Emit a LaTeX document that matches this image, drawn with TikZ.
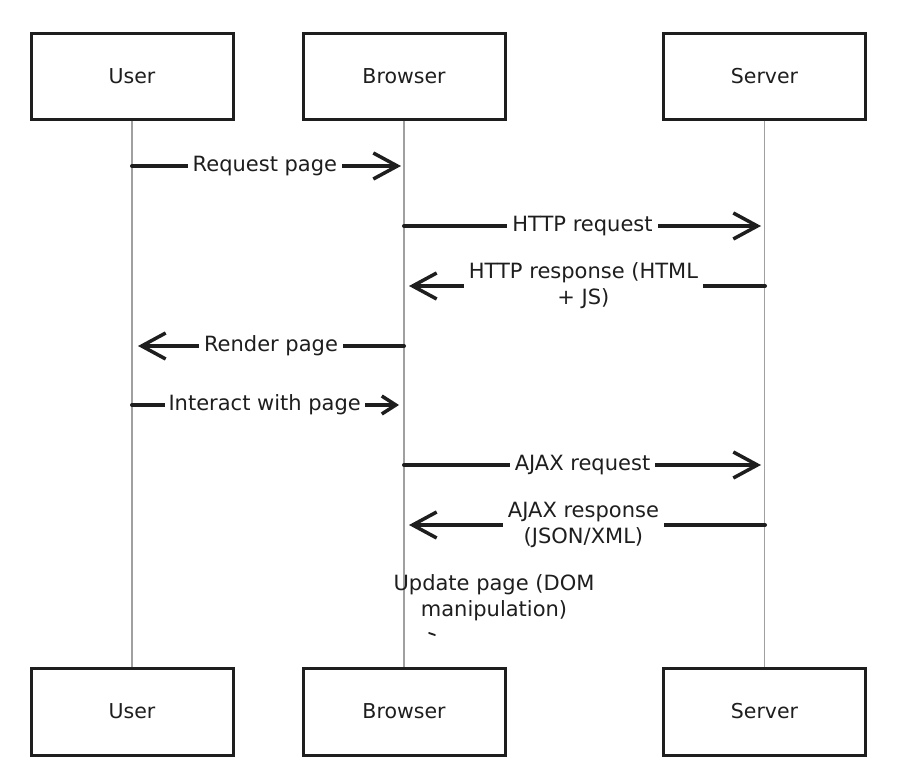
\documentclass[tikz,border=0pt]{standalone}
\usepackage{fontspec}
\setmainfont{DejaVu Sans}
\usetikzlibrary{arrows.meta}
\definecolor{ink}{HTML}{1E1E1E}
\definecolor{lifegray}{HTML}{A0A0A0}
\begin{document}
\begin{tikzpicture}[x=1pt,y=-1pt,
  actor/.style={draw=ink,line width=3pt,fill=white,minimum width=202pt,minimum height=86pt,
    inner sep=0pt,font=\fontsize{20.5}{26}\selectfont,text=ink},
  lifeline/.style={draw=lifegray,line width=1.3pt},
  msg/.style={draw=ink,line width=4pt,line cap=round,
    -{Straight Barb[length=24pt,width=26pt,line width=3.5pt]}},
  smallmsg/.style={draw=ink,line width=4pt,line cap=round,
    -{Straight Barb[length=14pt,width=18pt,line width=3.5pt]}},
  lbl/.style={fill=white,inner xsep=5pt,inner ysep=2pt,text=ink,
    font=\fontsize{21}{26}\selectfont,align=center},
  note/.style={text=ink,font=\fontsize{21}{26}\selectfont,align=center,inner sep=0pt},
  tickmark/.style={draw=ink,line width=1.8pt,line cap=round}
]
\useasboundingbox (0,0) rectangle (908,783);
\fill[white] (0,0) rectangle (908,783);

% actors
\node[actor] (u1) at (132,76.5) {User};
\node[actor] (b1) at (404,76.5) {Browser};
\node[actor] (s1) at (764.5,76.5) {Server};
\node[actor,minimum height=87pt] (u2) at (132,711.5) {User};
\node[actor,minimum height=87pt] (b2) at (404,711.5) {Browser};
\node[actor,minimum height=87pt] (s2) at (764.5,711.5) {Server};

% lifelines
\draw[lifeline] (u1.south) -- (u2.north);
\draw[lifeline] (b1.south) -- (b2.north);
\draw[lifeline] (s1.south) -- (s2.north);

% message anchor points
\coordinate (uA) at (132,166);   \coordinate (bA) at (401,166);
\coordinate (bB) at (404,226);   \coordinate (sB) at (761,226);
\coordinate (sC) at (765,286);   \coordinate (bC) at (409,286);
\coordinate (bD) at (404,346);   \coordinate (uD) at (138,346);
\coordinate (uE) at (132,405);   \coordinate (bE) at (399,405);
\coordinate (bF) at (404,465);   \coordinate (sF) at (761,465);
\coordinate (sG) at (765,525);   \coordinate (bG) at (409,525);

% messages
\draw[msg] (uA) -- (bA) node[lbl,pos=0.494] {Request page};
\draw[msg] (bB) -- (sB) node[lbl,midway] {HTTP request};
\draw[msg] (sC) -- (bC) node[lbl,pos=0.51] {HTTP response (HTML\\+ JS)};
\draw[msg] (bD) -- (uD) node[lbl,pos=0.5] {Render page};
\draw[smallmsg] (uE) -- (bE) node[lbl,pos=0.497,inner xsep=4pt] {Interact with page};
\draw[msg] (bF) -- (sF) node[lbl,midway] {AJAX request};
\draw[msg] (sG) -- (bG) node[lbl,pos=0.51] {AJAX response\\(JSON/XML)};

% self note
\node[note] (upd) at (494,598) {Update page (DOM\\manipulation)};
\coordinate (t1) at (429,633);
\coordinate (t2) at (435,635);
\draw[tickmark] (t1) -- (t2);
\end{tikzpicture}
\end{document}
